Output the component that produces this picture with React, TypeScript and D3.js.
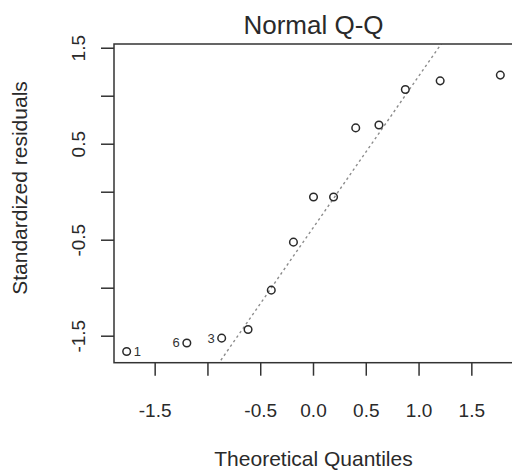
import React from "react";
import * as d3 from "d3";

// Theoretical normal quantiles (x) and standardized residuals (y), sorted
const theoretical = [-1.77, -1.2, -0.87, -0.62, -0.4, -0.19, 0, 0.19, 0.4, 0.62, 0.87, 1.2, 1.77];
const residuals = [-1.66, -1.57, -1.52, -1.43, -1.02, -0.52, -0.05, -0.05, 0.67, 0.7, 1.07, 1.16, 1.22];

// identified points: rank index -> observation label, side of label
const labelRanks = [0, 1, 2];
const labelTexts = ["1", "6", "3"];
const labelSides = ["right", "left", "left"];

const xTicks = [-1.5, -1.0, -0.5, 0, 0.5, 1.0, 1.5];
const xTickLabels = ["-1.5", "", "-0.5", "0.0", "0.5", "1.0", "1.5"];
const yTicks = [-1.5, -1.0, -0.5, 0, 0.5, 1.0, 1.5];
const yTickLabels = ["-1.5", "", "-0.5", "", "0.5", "", "1.5"];

const normalQuartiles = [-0.6745, 0.6745];
const xDomain = [-1.89, 1.89];
const yDomain = [-1.776, 1.544];

const FONT = "'Liberation Sans', Arial, Helvetica, sans-serif";
const INK = "#2a2a2a";

export default function App() {
  const left = 114, right = 513, top = 44, bottom = 362.7;
  const x = d3.scaleLinear().domain(xDomain).range([left, right]);
  const y = d3.scaleLinear().domain(yDomain).range([bottom, top]);

  const q1 = d3.quantile(residuals, 0.25) as number;
  const q3 = d3.quantile(residuals, 0.75) as number;
  const slope = (q3 - q1) / (normalQuartiles[1] - normalQuartiles[0]);
  const intercept = q1 - slope * normalQuartiles[0];
  const lineGen = d3.line<number>().x((d) => x(d)).y((d) => y(intercept + slope * d));
  const lineXs = [xDomain[0], xDomain[1]];

  return (
    <svg
      width={512}
      height={470}
      style={{ position: "absolute", left: 0, top: 0, background: "#fff" }}
      fontFamily={FONT}
    >
      <defs>
        <clipPath id="plotclip">
          <rect x={left} y={top} width={right - left} height={bottom - top} />
        </clipPath>
      </defs>
      <rect x={0} y={0} width={512} height={470} fill="#fff" />
      {/* title */}
      <text x={x(0)} y={34} textAnchor="middle" fontSize={26} fill={INK}>
        Normal Q-Q
      </text>
      {/* qq line */}
      <path
        d={lineGen(lineXs) || ""}
        clipPath="url(#plotclip)"
        fill="none"
        stroke="#8c8c8c"
        strokeWidth={1.4}
        strokeDasharray="2.5 3"
      />
      {/* points */}
      {theoretical.map((t, i) => (
        <circle key={i} cx={x(t)} cy={y(residuals[i])} r={3.8} fill="none" stroke={INK} strokeWidth={1.5} />
      ))}
      {labelRanks.map((r, k) => (
        <text
          key={"l" + k}
          x={x(theoretical[r]) + (labelSides[k] === "right" ? 7 : -7)}
          y={y(residuals[r]) + 4.5}
          textAnchor={labelSides[k] === "right" ? "start" : "end"}
          fontSize={13}
          fill="#333"
        >
          {labelTexts[k]}
        </text>
      ))}
      {/* frame */}
      <rect x={left} y={top} width={right - left} height={bottom - top} fill="none" stroke="#333" strokeWidth={1.5} />
      {/* x axis */}
      {xTicks.map((t, i) => (
        <g key={"xt" + i}>
          <line x1={x(t)} x2={x(t)} y1={bottom} y2={bottom + 13} stroke="#333" strokeWidth={1.5} />
          {xTickLabels[i] && (
            <text x={x(t)} y={417} textAnchor="middle" fontSize={19} fill={INK}>
              {xTickLabels[i]}
            </text>
          )}
        </g>
      ))}
      {/* y axis */}
      {yTicks.map((t, i) => (
        <g key={"yt" + i}>
          <line x1={left - 13} x2={left} y1={y(t)} y2={y(t)} stroke="#333" strokeWidth={1.5} />
          {yTickLabels[i] && (
            <text
              transform={`translate(84.5,${y(t)}) rotate(-90)`}
              textAnchor="middle"
              fontSize={19}
              fill={INK}
            >
              {yTickLabels[i]}
            </text>
          )}
        </g>
      ))}
      {/* axis titles */}
      <text x={x(0)} y={466} textAnchor="middle" fontSize={21} fill={INK}>
        Theoretical Quantiles
      </text>
      <text transform="translate(27,188) rotate(-90)" textAnchor="middle" fontSize={21} fill={INK}>
        Standardized residuals
      </text>
    </svg>
  );
}
